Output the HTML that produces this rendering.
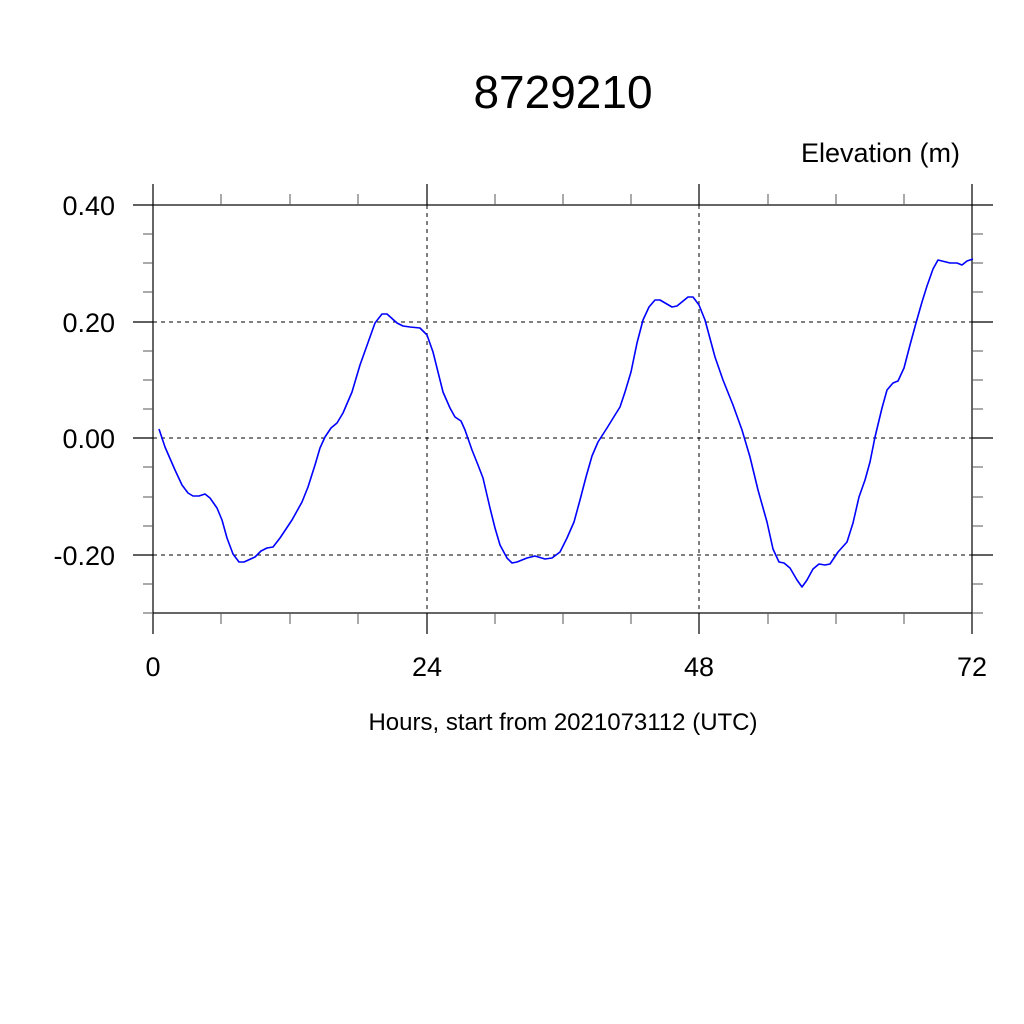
<!DOCTYPE html>
<html><head><style>body{margin:0;background:#fff}svg{display:block}</style></head><body>
<svg width="1024" height="1024" xmlns="http://www.w3.org/2000/svg" font-family="Liberation Sans, Arial, sans-serif">
<rect width="1024" height="1024" fill="#fff"/>
<text x="563" y="108" font-size="46" text-anchor="middle">8729210</text>
<text x="960" y="162" font-size="27" text-anchor="end">Elevation (m)</text>
<g stroke="#000" stroke-width="1" stroke-dasharray="4,4" fill="none">
<line x1="153" y1="322" x2="972" y2="322"/>
<line x1="153" y1="438" x2="972" y2="438"/>
<line x1="153" y1="555" x2="972" y2="555"/>
<line x1="427" y1="205" x2="427" y2="613"/>
<line x1="699" y1="205" x2="699" y2="613"/>
</g>
<g stroke="#000" stroke-width="1.2" fill="none">
<rect x="153" y="205" width="819" height="408"/>
<path d="M153 184V205M427 184V205M699 184V205M972 184V205M153 613V634M427 613V634M699 613V634M972 613V634"/>
<path d="M133 205H153M133 322H153M133 438H153M133 555H153M972 205H993M972 322H993M972 438H993M972 555H993"/>
</g>
<g stroke="#555" stroke-width="1" fill="none">
<path d="M221 194V205M290 194V205M358 194V205M495 194V205M563 194V205M631 194V205M768 194V205M836 194V205M904 194V205M221 613V624M290 613V624M358 613V624M495 613V624M563 613V624M631 613V624M768 613V624M836 613V624M904 613V624"/>
<path d="M143 234H153M143 263H153M143 292H153M143 351H153M143 380H153M143 409H153M143 467H153M143 497H153M143 526H153M143 584H153M143 613H153M972 234H983M972 263H983M972 292H983M972 351H983M972 380H983M972 409H983M972 467H983M972 497H983M972 526H983M972 584H983M972 613H983"/>
</g>
<g font-size="27" text-anchor="end">
<text x="115" y="215">0.40</text>
<text x="115" y="332">0.20</text>
<text x="115" y="448">0.00</text>
<text x="115" y="565">-0.20</text>
</g>
<g font-size="27" text-anchor="middle">
<text x="153" y="676">0</text>
<text x="427" y="676">24</text>
<text x="699" y="676">48</text>
<text x="972" y="676">72</text>
</g>
<text x="563" y="730" font-size="24" text-anchor="middle">Hours, start from 2021073112 (UTC)</text>
<polyline fill="none" stroke="#0000ff" stroke-width="1.6" stroke-linejoin="round" points="159,429 165,447 175,470 182,485 188,493 193,496 199,496 205,494 210,498 217,508 222,520 227,538 233,554 239,562 244,562 255,557 261,551 267,548 273,547 280,538 292,520 302,502 308,487 315,465 320,448 325,437 331,428 337,423 343,413 352,392 360,365 370,337 375,323 382,314 387,314 397,323 403,326 410,327 420,328 427,335 433,352 443,392 450,408 455,417 461,421 465,430 472,450 478,465 483,478 490,508 495,528 500,545 507,558 512,563 517,562 527,558 535,556 545,559 552,558 560,552 567,538 574,522 580,500 586,477 592,456 598,442 607,428 615,415 620,407 625,392 631,372 637,343 643,320 649,307 655,300 660,300 672,307 677,306 688,297 693,297 699,305 705,320 715,357 723,380 733,405 742,430 750,457 758,490 767,522 773,549 779,562 784,563 790,568 797,580 802,587 807,580 813,569 819,564 825,565 830,564 838,552 847,542 853,523 859,497 865,480 870,462 875,437 882,408 887,390 893,383 898,381 904,368 910,345 916,323 922,302 927,286 933,269 938,260 950,263 957,263 962,265 967,261 973,259"/>
</svg>
</body></html>
